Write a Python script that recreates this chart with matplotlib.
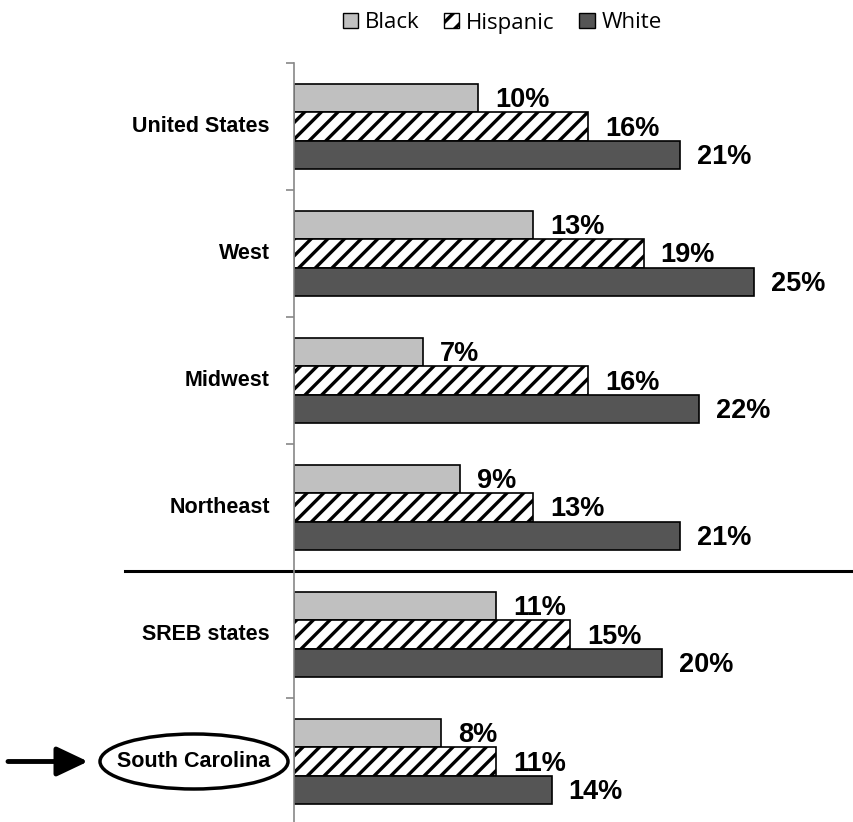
import matplotlib.pyplot as plt
import matplotlib.patches as mpatches
import matplotlib.transforms as mtransforms
import numpy as np

plt.rcParams['hatch.linewidth'] = 2.4

# data, top group first
regions = ["United States", "West", "Midwest", "Northeast", "SREB states", "South Carolina"]
black = [10, 13, 7, 9, 11, 8]
hispanic = [16, 19, 16, 13, 15, 11]
white = [21, 25, 22, 21, 20, 14]
series_names = ["Black", "Hispanic", "White"]

W, H = 854, 822
fig = plt.figure(figsize=(W / 100, H / 100), dpi=100)

# axes placed in pixel terms: left spine at x=294, top at y=63, 127 px per group
ax_left, ax_top, grp = 294, 63, 127
n = len(regions)
ax_bottom = ax_top + n * grp
ax = fig.add_axes([ax_left / W, 1 - ax_bottom / H, (846 - ax_left) / W, (ax_bottom - ax_top) / H])

bh = 28.3 / grp
y0 = np.arange(n) + 0.5
styles = [
    dict(color='#c0c0c0', hatch=None),
    dict(color='white', hatch='//'),
    dict(color='#555555', hatch=None),
]
for k, vals in enumerate([black, hispanic, white]):
    ys = y0 + (k - 1) * bh
    st = styles[k]
    ax.barh(ys, vals, height=bh, color=st['color'], edgecolor='black',
            hatch=st['hatch'], linewidth=1.2, label=series_names[k])
    for y, v in zip(ys, vals):
        ax.annotate('%d%%' % v, xy=(v, y), xytext=(17, -2), textcoords='offset pixels',
                    ha='left', va='center', fontsize=19.5, fontweight='bold',
                    family='Liberation Sans')

ax.set_xlim(0, 30)
ax.set_ylim(n, 0)
ax.set_xticks([])
ax.set_yticks(np.arange(n + 1))
ax.set_yticklabels([])
ax.tick_params(axis='y', direction='out', length=6, width=1.2, color='#888888')
for s in ['top', 'right', 'bottom']:
    ax.spines[s].set_visible(False)
ax.spines['left'].set_color('#888888')
ax.spines['left'].set_linewidth(1.2)

# category labels
for i, r in enumerate(regions):
    ax.annotate(r, xy=(0, i + 0.5), xytext=(-24, 0), textcoords='offset pixels',
                ha='right', va='center', fontsize=15.5, fontweight='bold',
                family='Liberation Sans')

blend = mtransforms.blended_transform_factory(fig.transFigure, ax.transData)

# separator between regions and SREB
ax.plot([125 / W, 852 / W], [4, 4], color='black', lw=2.2, transform=blend, clip_on=False)

# highlight South Carolina
ell = mpatches.Ellipse((194 / W, 5.5), 188 / W, 55 / grp, transform=blend,
                       fill=False, edgecolor='black', lw=2.5, clip_on=False)
ax.add_patch(ell)
ax.annotate('', xy=(88 / W, 5.5), xytext=(8 / W, 5.5), xycoords=blend, textcoords=blend,
            arrowprops=dict(arrowstyle='-|>,head_length=1.9,head_width=0.9', lw=3.5,
                            color='black', shrinkA=0, shrinkB=0, mutation_scale=10),
            annotation_clip=False)

# legend
handles = [mpatches.Patch(facecolor=st['color'], edgecolor='black', hatch=st['hatch'], lw=1)
           for st in styles]
leg = fig.legend(handles, series_names, loc='center', bbox_to_anchor=(502 / W, 1 - 23 / H),
                 ncol=3, frameon=False, handlelength=0.7, handleheight=0.7,
                 handletextpad=0.3, columnspacing=1.1,
                 prop={'family': 'Open Sans', 'size': 16})

fig.savefig('out.png', dpi=100)
